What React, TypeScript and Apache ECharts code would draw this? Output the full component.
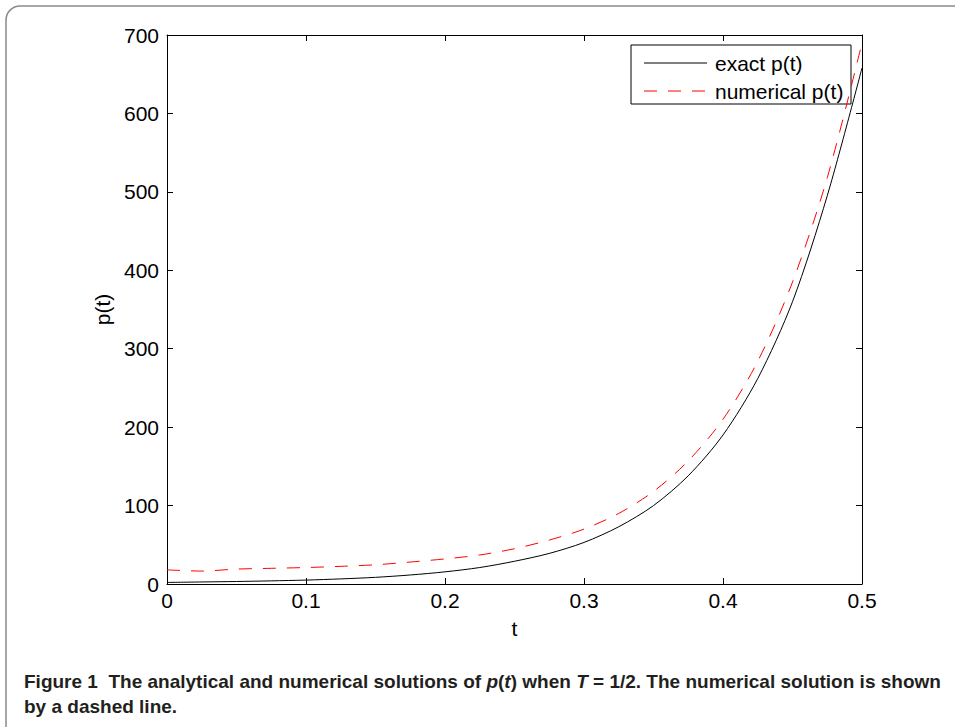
import React, { useEffect, useRef } from "react";
import * as echarts from "echarts";

const tValues = [0, 0.025, 0.05, 0.075, 0.1, 0.125, 0.15, 0.175, 0.2, 0.225, 0.25, 0.275, 0.3, 0.325, 0.35, 0.375, 0.4, 0.425, 0.45, 0.475, 0.5];
const exactP = [2, 2.6, 3.2, 4, 5, 6.5, 8.5, 11.5, 15.5, 21, 29, 39, 53, 73, 100, 138, 190, 262, 360, 495, 658];
const numericalP = [18, 16.5, 19, 20, 21, 22.5, 24.5, 28, 32, 37, 45, 56, 70, 90, 118, 157, 210, 284, 385, 518, 690];
const xTicks = [0, 0.1, 0.2, 0.3, 0.4, 0.5];
const yTicks = [0, 100, 200, 300, 400, 500, 600, 700];
const seriesNames = ["exact p(t)", "numerical p(t)"];

const FONT = "'Liberation Sans', Arial, sans-serif";
const CAP_FONT = "'Liberation Sans Narrow', 'Liberation Sans', sans-serif";

export default function App() {
  const ref = useRef<HTMLDivElement>(null);
  useEffect(() => {
    if (!ref.current) return;
    const chart = echarts.init(ref.current, null, { renderer: "svg" });
    const axisCommon = {
      axisLine: { show: true, onZero: false, lineStyle: { color: "#000", width: 1 } },
      axisTick: { show: true, inside: true, length: 6, lineStyle: { color: "#000" } },
      splitLine: { show: false },
    };
    chart.setOption({
      animation: false,
      backgroundColor: "#fff",
      grid: { left: 167, top: 35, width: 695, height: 549, containLabel: false },
      xAxis: [
        {
          type: "value",
          min: 0,
          max: 0.5,
          interval: 0.1,
          position: "bottom",
          name: "t",
          nameLocation: "middle",
          nameGap: 34,
          nameTextStyle: { fontFamily: FONT, fontSize: 21, color: "#000" },
          axisLabel: {
            fontFamily: FONT,
            fontSize: 21,
            color: "#000",
            margin: 6,
            formatter: (v: number) => (xTicks.includes(Math.round(v * 10) / 10) ? String(Math.round(v * 10) / 10) : ""),
          },
          ...axisCommon,
        },
        {
          type: "value",
          min: 0,
          max: 0.5,
          interval: 0.1,
          position: "top",
          axisLabel: { show: false },
          ...axisCommon,
        },
      ],
      yAxis: [
        {
          type: "value",
          min: 0,
          max: 700,
          interval: 100,
          position: "left",
          name: "p(t)",
          nameLocation: "middle",
          nameGap: 38,
          nameRotate: 90,
          nameTextStyle: { fontFamily: FONT, fontSize: 21, color: "#000" },
          axisLabel: {
            fontFamily: FONT,
            fontSize: 21,
            color: "#000",
            margin: 8,
            formatter: (v: number) => (yTicks.includes(v) ? String(v) : ""),
          },
          ...axisCommon,
        },
        {
          type: "value",
          min: 0,
          max: 700,
          interval: 100,
          position: "right",
          axisLabel: { show: false },
          ...axisCommon,
        },
      ],
      series: [
        {
          name: seriesNames[0],
          type: "line",
          data: tValues.map((t, i) => [t, exactP[i]]),
          showSymbol: false,
          symbol: "none",
          smooth: 0.3,
          lineStyle: { color: "#000", width: 1 },
          clip: true,
        },
        {
          name: seriesNames[1],
          type: "line",
          data: tValues.map((t, i) => [t, numericalP[i]]),
          showSymbol: false,
          symbol: "none",
          smooth: 0.3,
          lineStyle: { color: "#ff0000", width: 1, type: [13, 11] },
          clip: true,
        },
      ],
      graphic: [
        {
          type: "rect",
          shape: { x: 6, y: 6, width: 1100, height: 900, r: 14 },
          style: { fill: "none", stroke: "#8a8a8a", lineWidth: 1.5 },
          silent: true,
          z: -1,
        },
        {
          type: "group",
          children: [
            {
              type: "rect",
              shape: { x: 631, y: 45, width: 220, height: 59 },
              style: { fill: "#fff", stroke: "#000", lineWidth: 1 },
            },
            {
              type: "line",
              shape: { x1: 644, y1: 63, x2: 707, y2: 63 },
              style: { stroke: "#000", lineWidth: 1 },
            },
            {
              type: "line",
              shape: { x1: 644, y1: 91, x2: 707, y2: 91 },
              style: { stroke: "#ff0000", lineWidth: 1, lineDash: [13, 11] },
            },
            {
              type: "text",
              x: 715,
              y: 63,
              style: { text: seriesNames[0], font: `21px ${FONT}`, fill: "#000", verticalAlign: "middle" },
            },
            {
              type: "text",
              x: 715,
              y: 91,
              style: { text: seriesNames[1], font: `21px ${FONT}`, fill: "#000", verticalAlign: "middle" },
            },
          ],
          z: 10,
        },
        {
          type: "text",
          x: 24,
          y: 681,
          style: {
            text: "Figure 1  The analytical and numerical solutions of {i|p}({i|t}) when {i|T} = 1/2. The numerical solution is shown",
            fontFamily: CAP_FONT,
            fontWeight: "bold",
            fontSize: 19,
            fill: "#231f20",
            verticalAlign: "middle",
            rich: {
              i: { fontStyle: "italic", fontWeight: "bold", fontFamily: CAP_FONT, fontSize: 19, fill: "#231f20" },
            },
          },
        },
        {
          type: "text",
          x: 24,
          y: 706,
          style: {
            text: "by a dashed line.",
            fontFamily: CAP_FONT,
            fontWeight: "bold",
            fontSize: 19,
            fill: "#231f20",
            verticalAlign: "middle",
          },
        },
      ],
    });
    return () => chart.dispose();
  }, []);
  return <div ref={ref} style={{ position: "fixed", left: 0, top: 0, width: 955, height: 727 }} />;
}
